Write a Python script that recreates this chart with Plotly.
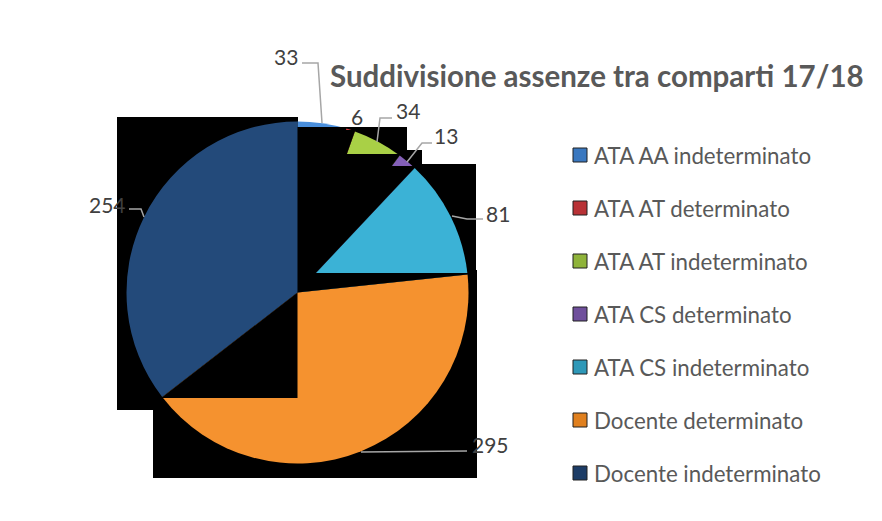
import math
import plotly.graph_objects as go

# ---------------- data ----------------
categories = [
    "ATA AA indeterminato",
    "ATA AT determinato",
    "ATA AT indeterminato",
    "ATA CS determinato",
    "ATA CS indeterminato",
    "Docente determinato",
    "Docente indeterminato",
]
values = [33, 6, 34, 13, 81, 295, 254]
colors = ["#4a8fdc", "#d8373a", "#a9d046", "#8460b8", "#3bb2d6", "#f5922f", "#234a7a"]
legend_colors = ["#3a78c0", "#b83236", "#8fb33a", "#6f4f9c", "#2e98b8", "#e0801f", "#1c3c66"]
title_text = "Suddivisione assenze tra comparti 17/18"

# ---------------- layout helpers ----------------
OFF = 8                      # page body margin
W, H = 882 - 2 * OFF, 521 - 2 * OFF
cx, cy, r = 297.5, 292.5, 171.0   # pie centre / radius in page pixels
FONT = "Lato"


def px(x):
    return (x - OFF) / W


def py(y):
    return 1 - (y - OFF) / H


def path(points, close=True):
    s = "M " + " L ".join(f"{px(x):.5f},{py(y):.5f}" for x, y in points)
    return s + (" Z" if close else "")


total = sum(values)
ang = [0.0]
for v in values:
    ang.append(ang[-1] + 360.0 * v / total)

fig = go.Figure()
fig.add_trace(go.Pie(
    labels=categories,
    values=values,
    sort=False,
    direction="clockwise",
    rotation=0,
    marker=dict(colors=colors, line=dict(width=0)),
    textinfo="none",
    showlegend=False,
    domain=dict(x=[px(cx - r), px(cx + r)], y=[py(cy + r), py(cy - r)]),
))

shapes = []
# black rendering artefacts behind the pie
black_rects = [(117, 117, 298, 410), (153, 270, 477, 478), (297, 164, 476, 293),
               (297, 150, 422, 293), (297, 127, 407, 293)]
for x0, y0, x1, y1 in black_rects:
    shapes.append(dict(type="rect", xref="paper", yref="paper", x0=px(x0), x1=px(x1),
                       y0=py(y1), y1=py(y0), fillcolor="black", line=dict(width=0), layer="below"))


def ray_x(a, Y):
    return cx + (cy - Y) * math.tan(math.radians(a))


cuts = [127, 130, 154, 166, 273]
poly = [(cx, cy), (cx, cuts[0])]
for i in range(4):
    poly.append((ray_x(ang[i + 1], cuts[i]), cuts[i]))
    poly.append((ray_x(ang[i + 1], cuts[i + 1]), cuts[i + 1]))
poly.append((470, cuts[4]))
poly.append((470, cy - (470 - cx) / math.tan(math.radians(ang[5]))))
shapes.append(dict(type="path", xref="paper", yref="paper", path=path(poly),
                   fillcolor="black", line=dict(width=0), layer="above"))

a6 = math.radians(ang[6])
Yb = 398
t = (Yb - cy) / (-math.cos(a6))
tri = [(cx, cy), (cx, Yb), (cx + math.sin(a6) * t, Yb)]
shapes.append(dict(type="path", xref="paper", yref="paper", path=path(tri),
                   fillcolor="black", line=dict(width=0), layer="above"))

# leader lines
leaders = [
    [(302, 63), (318, 63), (322, 123)],
    None,
    [(392, 118), (380, 118), (377, 142)],
    [(432, 143), (422, 143), (407, 162)],
    [(483, 219), (467, 219), (452, 216)],
    [(467, 451), (361, 452)],
    [(129, 209), (141, 209), (144, 217)],
]
for ld in leaders:
    if ld:
        shapes.append(dict(type="path", xref="paper", yref="paper", path=path(ld, close=False),
                           line=dict(color="#a6a6a6", width=1.5), layer="above"))

annotations = []
label_xy = [(286, 57), (357, 117), (408, 111), (446, 135), (498, 213), (490, 444), (107, 204)]
for v, (lx, ly) in zip(values, label_xy):
    annotations.append(dict(x=px(lx), y=py(ly), xref="paper", yref="paper", text=str(v),
                            showarrow=False, xanchor="center", yanchor="middle",
                            font=dict(family=FONT, size=21, color="#404040")))

# title
annotations.append(dict(x=px(328), y=py(75), xref="paper", yref="paper",
                        text="<b>" + title_text + "</b>", showarrow=False,
                        xanchor="left", yanchor="middle",
                        font=dict(family=FONT, size=29.5, color="#595959")))

# manual legend
leg_y0, leg_dy = 155, 53
for i, (name, col) in enumerate(zip(categories, legend_colors)):
    yy = leg_y0 + i * leg_dy
    shapes.append(dict(type="rect", xref="paper", yref="paper", x0=px(573), x1=px(587),
                       y0=py(yy + 7), y1=py(yy - 7), fillcolor=col,
                       line=dict(color="#202020", width=1), layer="above"))
    annotations.append(dict(x=px(592), y=py(yy), xref="paper", yref="paper", text=name,
                            showarrow=False, xanchor="left", yanchor="middle",
                            font=dict(family=FONT, size=22.3, color="#595959")))

fig.update_layout(
    width=W, height=H,
    margin=dict(l=0, r=0, t=0, b=0),
    paper_bgcolor="white", plot_bgcolor="white",
    showlegend=False,
    shapes=shapes,
    annotations=annotations,
)
fig.write_html("out.html")
